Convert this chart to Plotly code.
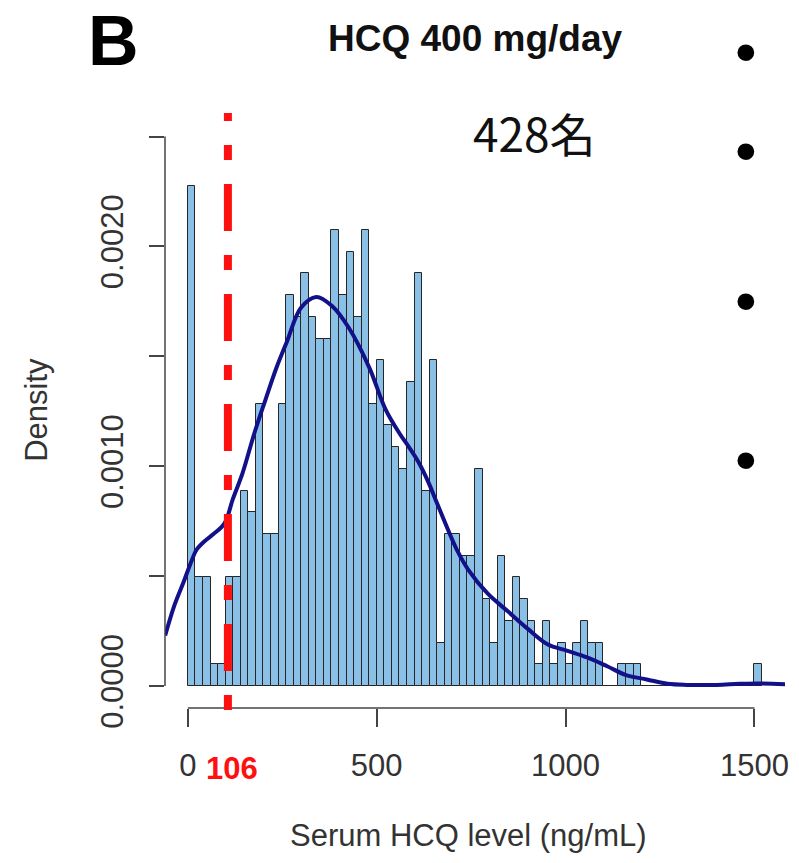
import plotly.graph_objects as go

# ---------------- data ----------------
bin_width = 20
bin_counts = [23, 5, 5, 1, 1, 5, 5, 9, 8, 13,
              7, 7, 13, 18, 17, 19, 17, 16, 16, 21,
              18, 20, 17, 21, 13, 15, 12, 11, 10, 14,
              19, 9, 15, 2, 7, 7, 6, 6, 10, 4,
              2, 6, 3, 5, 4, 3, 1, 3, 1, 2,
              1, 2, 3, 2, 2, 0, 0, 1, 1, 1,
              0, 0, 0, 0, 0, 0, 0, 0, 0, 0,
              0, 0, 0, 0, 0, 1]
bin_starts = [i * bin_width for i in range(len(bin_counts))]

kde_x = [-60, -35, -12, 10, 23, 45, 67, 97, 119, 145, 176, 205, 235, 263, 299,
         340, 381, 426, 480, 523, 560, 584, 610, 636, 660, 689, 715, 742, 794,
         847, 900, 952, 1005, 1057, 1110, 1160, 1215, 1270, 1320, 1400, 1460,
         1510, 1581]
kde_y = [0.00023, 0.00037, 0.00047, 0.00057, 0.00062, 0.00066, 0.00069, 0.00074,
         0.00085, 0.00097, 0.00115, 0.00130, 0.00145, 0.00157, 0.00172, 0.00177,
         0.00173, 0.00163, 0.00145, 0.00126, 0.00115, 0.00109, 0.00102, 0.00093,
         0.00083, 0.00071, 0.00061, 0.00053, 0.00042, 0.00034, 0.00026, 0.00019,
         0.00016, 0.00013, 0.00009, 0.00005, 0.00003, 0.00001, 0.000005, 0.000005,
         0.00001, 0.000012, 0.000008]

threshold = 106
x_ticks = [0, 500, 1000, 1500]
x_tick_labels = ["0", "500", "1000", "1500"]
y_ticks = [0, 0.0005, 0.0010, 0.0015, 0.0020, 0.0025]
y_tick_labels = ["0.0000", "", "0.0010", "", "0.0020", ""]

title_text = "HCQ 400 mg/day"
panel_label = "B"
n_label = "428名"
x_title = "Serum HCQ level (ng/mL)"
y_title = "Density"

# ---------------- layout helpers ----------------
W, H = 799, 863
ML, MR, MT, MB = 165, 10, 113, 155
PW, PH = W - ML - MR, H - MT - MB


def px(x):
    return (x - ML) / PW


def py(y):
    return (H - MB - y) / PH


total = sum(bin_counts)
density = [c / (total * bin_width) for c in bin_counts]
centers = [s + bin_width / 2 for s in bin_starts]

FONT = "Liberation Sans, Arial, sans-serif"
AX = "#444444"

# dash-dot pattern for the threshold line, phased so the first (partial) dash
# is cut at the plot top like in the reference
dash_pattern = "8px,24px,15px,24px," + ",".join(["47px,24px,15px,24px"] * 6)

fig = go.Figure()
fig.add_trace(go.Bar(
    x=centers, y=density, width=bin_width,
    marker=dict(color="#8AC0E5", line=dict(color="#262626", width=1)),
    showlegend=False, hoverinfo="skip"))
fig.add_trace(go.Scatter(
    x=kde_x, y=kde_y, mode="lines", line=dict(color="#12118A", width=4, shape="spline"),
    showlegend=False, hoverinfo="skip"))

fig.update_layout(
    width=W, height=H,
    margin=dict(l=ML, r=MR, t=MT, b=MB, pad=0),
    paper_bgcolor="white", plot_bgcolor="white",
    bargap=0,
    xaxis=dict(range=[-60.5, 1580.8], showgrid=False, zeroline=False, showline=False,
               tickmode="array", tickvals=x_ticks, ticktext=x_tick_labels,
               ticks="outside", ticklen=18, tickwidth=1.5, tickcolor=AX,
               tickfont=dict(family=FONT, size=31, color="#333333"),
               ticklabelstandoff=12),
    yaxis=dict(range=[-0.0001, 0.002607], showgrid=False, zeroline=False, showline=False,
               tickmode="array", tickvals=y_ticks, ticktext=y_tick_labels,
               ticks="outside", ticklen=15, tickwidth=1.5, tickcolor=AX,
               tickangle=-90,
               tickfont=dict(family=FONT, size=31, color="#333333"),
               ticklabelstandoff=14),
    shapes=[
        dict(type="line", xref="x", yref="paper", x0=x_ticks[0], x1=x_ticks[-1], y0=0, y1=0,
             line=dict(color=AX, width=1.5)),
        dict(type="line", xref="paper", yref="y", x0=0, x1=0, y0=y_ticks[0], y1=y_ticks[-1],
             line=dict(color=AX, width=1.5)),
        dict(type="line", xref="x", yref="paper", x0=threshold, x1=threshold,
             y0=py(113), y1=py(712),
             line=dict(color="#FF1010", width=8, dash=dash_pattern)),
    ],
    annotations=[
        dict(text=f"<b>{panel_label}</b>", xref="paper", yref="paper", x=px(113), y=py(1),
             showarrow=False, font=dict(family=FONT, size=70, color="black"),
             xanchor="center", yanchor="top", borderpad=0),
        dict(text=f"<b>{title_text}</b>", xref="paper", yref="paper", x=px(477), y=py(38),
             showarrow=False, font=dict(family=FONT, size=37, color="#111111"),
             xanchor="center", yanchor="middle"),
        dict(text=n_label, xref="paper", yref="paper", x=px(537), y=py(132),
             showarrow=False, font=dict(family="Noto Sans CJK JP", size=46, color="#111111"),
             xanchor="center", yanchor="middle"),
        dict(text=y_title, xref="paper", yref="paper", x=px(35), y=py(410), textangle=-90,
             showarrow=False, font=dict(family=FONT, size=31, color="#333333"),
             xanchor="center", yanchor="middle"),
        dict(text=x_title, xref="paper", yref="paper", x=px(470), y=py(835),
             showarrow=False, font=dict(family=FONT, size=31, color="#333333"),
             xanchor="center", yanchor="middle"),
        dict(text=f"<b>{threshold}</b>", xref="x", yref="paper", x=threshold, y=py(768),
             xshift=4, showarrow=False, font=dict(family=FONT, size=31, color="#FF1010"),
             xanchor="center", yanchor="middle"),
    ] + [
        dict(text="•", xref="paper", yref="paper", x=px(750), y=py(yb), showarrow=False,
             font=dict(family=FONT, size=62, color="black"), xanchor="center", yanchor="middle")
        for yb in [52, 150, 300, 460]
    ],
)

fig.write_html("out.html", config={"displayModeBar": False},
               post_script="document.body.style.margin='0px';document.body.style.overflow='hidden';")
